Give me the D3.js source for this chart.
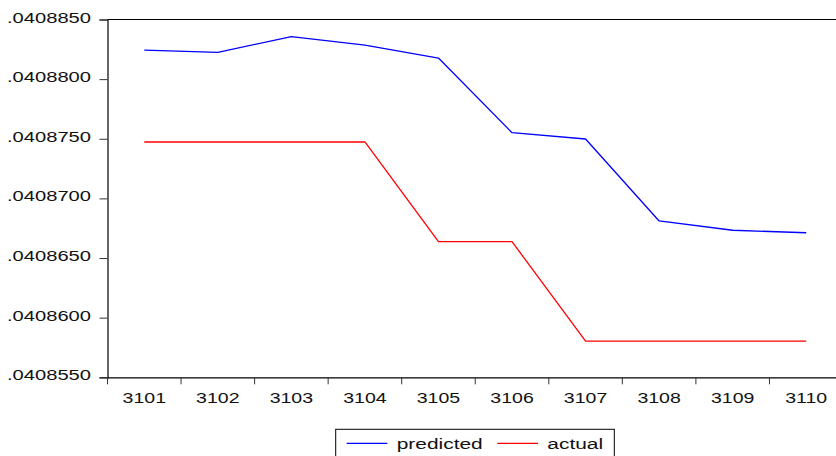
<!DOCTYPE html>
<html>
<head>
<meta charset="utf-8">
<script src="https://cdn.jsdelivr.net/npm/d3@7/dist/d3.min.js"></script>
<style>
  html, body { margin: 0; padding: 0; background: #fff; }
  svg { display: block; }
  text { font-family: "Liberation Sans", Arial, sans-serif; fill: #111; }
</style>
</head>
<body>
<svg id="chart" width="836" height="456"></svg>
<script>
const categories = ["3101", "3102", "3103", "3104", "3105", "3106", "3107", "3108", "3109", "3110"];
const predicted = [0.04088244, 0.04088225, 0.04088356, 0.04088286, 0.04088177,
                   0.04087551, 0.04087498, 0.04086811, 0.04086733, 0.04086712];
const actual = [0.04087473, 0.04087473, 0.04087473, 0.04087473, 0.04086637,
                0.04086637, 0.04085804, 0.04085804, 0.04085804, 0.04085804];
const yTicks = [0.0408550, 0.0408600, 0.0408650, 0.0408700, 0.0408750, 0.0408800, 0.0408850];
const yTickLabels = [".0408550", ".0408600", ".0408650", ".0408700", ".0408750", ".0408800", ".0408850"];
const seriesNames = ["predicted", "actual"];
const seriesColors = ["#0000ff", "#ff0000"];

const svg = d3.select("#chart");
const plotLeft = 107.5, plotRight = 843, plotTop = 19.5, plotBottom = 377.3;
const fontSize = 15.5;

const x = d3.scaleBand().domain(categories).range([plotLeft, plotRight]);
const y = d3.scaleLinear().domain([0.0408550, 0.0408850]).range([plotBottom, plotTop]);

// horizontally widened text, anchored at (px, py)
function label(g, str, px, py, anchor, stretch) {
  return g.append("text")
    .attr("transform", `translate(${px},${py}) scale(${stretch},1)`)
    .attr("text-anchor", anchor)
    .attr("font-size", fontSize)
    .text(str);
}

// frame: top border
svg.append("line").attr("x1", plotLeft).attr("x2", plotRight).attr("y1", plotTop).attr("y2", plotTop)
  .attr("stroke", "#000").attr("stroke-width", 1.2);

// y axis
const yAxis = svg.append("g").attr("transform", `translate(${plotLeft},0)`)
  .call(d3.axisLeft(y).tickValues(yTicks).tickSize(8).tickFormat(""));
yAxis.select(".domain").attr("stroke", "#000").attr("stroke-width", 1.2);
yAxis.selectAll(".tick line").attr("stroke", "#333");
yTicks.forEach((t, i) => label(svg, yTickLabels[i], 91, y(t) + 3, "end", 1.3));

// x axis: ticks at category boundaries, labels centred in each band
const xAxis = svg.append("g").attr("transform", `translate(0,${plotBottom})`)
  .call(d3.axisBottom(x).tickSize(0).tickFormat(""));
xAxis.select(".domain").attr("stroke", "#000").attr("stroke-width", 1.2);
xAxis.selectAll(".tick").remove();
categories.forEach(c => {
  svg.append("line").attr("x1", x(c)).attr("x2", x(c))
    .attr("y1", plotBottom).attr("y2", plotBottom + 7).attr("stroke", "#333");
  label(svg, c, x(c) + x.bandwidth() / 2, 403.3, "middle", 1.26);
});

// series lines
const line = d3.line()
  .x((d, i) => x(categories[i]) + x.bandwidth() / 2)
  .y(d => y(d));
[predicted, actual].forEach((s, k) => {
  svg.append("path").datum(s)
    .attr("d", line)
    .attr("fill", "none")
    .attr("stroke", seriesColors[k])
    .attr("stroke-width", 1.3)
    .attr("stroke-linejoin", "round");
});

// legend
const lg = svg.append("g");
lg.append("rect").attr("x", 335.7).attr("y", 429.3).attr("width", 278.6).attr("height", 40)
  .attr("fill", "#fff").attr("stroke", "#000").attr("stroke-width", 1);
const legendItems = [
  { x1: 346.7, x2: 387.3, tx: 396.7 },
  { x1: 497.3, x2: 538, tx: 547.3 }
];
legendItems.forEach((it, k) => {
  lg.append("line").attr("x1", it.x1).attr("x2", it.x2).attr("y1", 443.3).attr("y2", 443.3)
    .attr("stroke", seriesColors[k]).attr("stroke-width", 1.3);
  label(lg, seriesNames[k], it.tx, 448.8, "start", 1.35);
});
</script>
</body>
</html>
